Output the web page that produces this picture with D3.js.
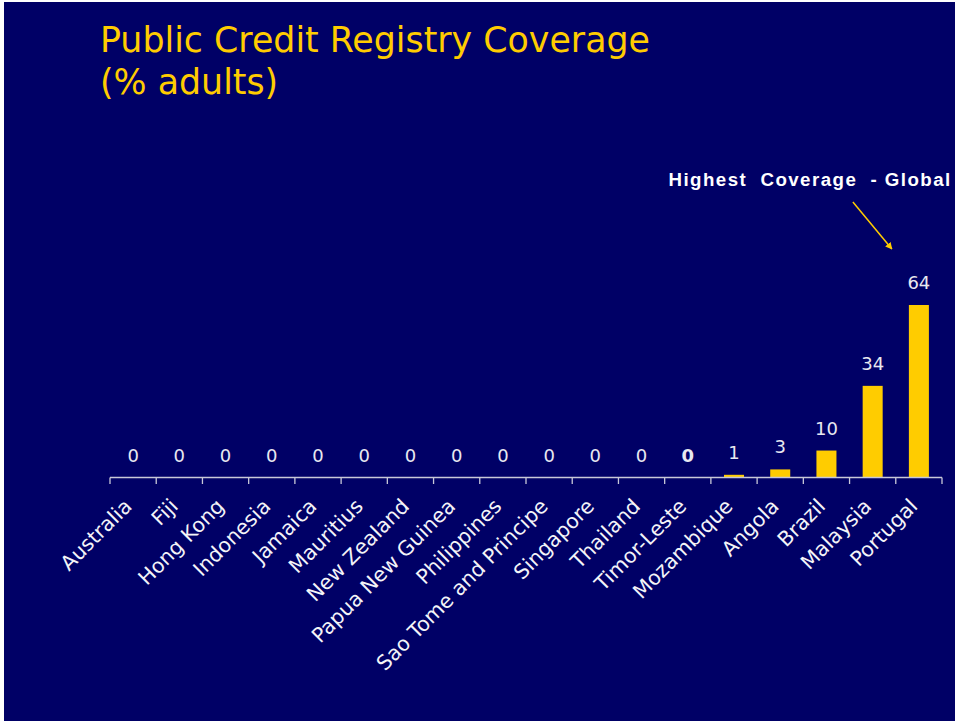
<!DOCTYPE html>
<html>
<head>
<meta charset="utf-8">
<script src="https://cdn.jsdelivr.net/npm/d3@7"></script>
<style>
  html, body { margin: 0; padding: 0; background: #ffffff; }
  svg { display: block; }
</style>
</head>
<body>
<svg id="chart" width="955" height="721"></svg>
<script>
// ---- data ----
const categories = ["Australia", "Fiji", "Hong Kong", "Indonesia", "Jamaica", "Mauritius",
  "New Zealand", "Papua New Guinea", "Philippines", "Sao Tome and Principe", "Singapore",
  "Thailand", "Timor-Leste", "Mozambique", "Angola", "Brazil", "Malaysia", "Portugal"];
const values = [0, 0, 0, 0, 0, 0, 0, 0, 0, 0, 0, 0, 0, 1, 3, 10, 34, 64];
const titleLines = ["Public Credit Registry Coverage", "(% adults)"];
const annotationText = "Highest  Coverage  - Global";
const annotatedCategory = "Portugal";
const boldLabelCategory = "Timor-Leste";

// ---- drawing ----
const svg = d3.select("#chart");
const W = 955, H = 721;

svg.append("rect").attr("x", 4).attr("y", 2).attr("width", W - 4).attr("height", H - 2)
  .attr("fill", "#000066");

const data = categories.map((c, i) => ({ c, v: values[i] }));

const x = d3.scaleBand().domain(categories).range([110, 942])
  .paddingInner(0.567).paddingOuter(0.2835);
const baseY = 477.5;
const y = d3.scaleLinear().domain([0, d3.max(values)]).range([baseY, 305]);

// title
svg.append("g").selectAll("text").data(titleLines).join("text")
  .attr("x", 100).attr("y", (d, i) => 52 + i * 42)
  .attr("fill", "#FFCC00")
  .attr("font-family", "DejaVu Sans, sans-serif")
  .attr("font-size", 34.8)
  .text(d => d);

// bars
svg.append("g").selectAll("rect").data(data).join("rect")
  .attr("x", d => x(d.c)).attr("width", x.bandwidth())
  .attr("y", d => y(d.v)).attr("height", d => baseY - y(d.v))
  .attr("fill", "#FFCC00");

// axis
const step = x.step();
const x0 = x.range()[0], x1 = x.range()[1];
const axisG = svg.append("g").attr("stroke", "#C8C8D8").attr("stroke-width", 1.3);
axisG.append("line").attr("x1", x0).attr("x2", x1).attr("y1", baseY).attr("y2", baseY);
axisG.selectAll("line.tick").data(d3.range(categories.length + 1)).join("line")
  .attr("class", "tick")
  .attr("x1", i => x0 + i * step).attr("x2", i => x0 + i * step)
  .attr("y1", baseY).attr("y2", baseY + 6.5);

// value labels
svg.append("g").selectAll("text").data(data).join("text")
  .attr("x", d => x(d.c) + x.bandwidth() / 2)
  .attr("y", d => y(d.v) - 16)
  .attr("text-anchor", "middle")
  .attr("fill", "#E8E8F0")
  .attr("font-family", "DejaVu Sans, sans-serif")
  .attr("font-size", 18)
  .attr("font-weight", d => d.c === boldLabelCategory ? "bold" : "normal")
  .text(d => d.v);

// category labels
svg.append("g").selectAll("text").data(categories).join("text")
  .attr("transform", c => `translate(${x(c) + x.bandwidth() / 2},${baseY + 30}) rotate(-45)`)
  .attr("text-anchor", "end")
  .attr("fill", "#F4F4F8")
  .attr("font-family", "DejaVu Sans, sans-serif")
  .attr("font-size", 20.5)
  .text(c => c);

// annotation
svg.append("text")
  .attr("x", 668.5).attr("y", 185.7)
  .attr("fill", "#FFFFFF")
  .attr("font-family", "Liberation Sans, Arial, sans-serif")
  .attr("font-weight", "bold")
  .attr("font-size", 18.7)
  .attr("letter-spacing", 1.45)
  .style("white-space", "pre")
  .text(annotationText);

const defs = svg.append("defs");
defs.append("marker").attr("id", "ah").attr("viewBox", "0 0 10 10")
  .attr("refX", 9).attr("refY", 5).attr("markerWidth", 7).attr("markerHeight", 7)
  .attr("markerUnits", "userSpaceOnUse").attr("orient", "auto")
  .append("path").attr("d", "M0,0 L10,5 L0,10 z").attr("fill", "#FFCC00");

const ax = x(annotatedCategory) + x.bandwidth() / 2;
const ay = y(values[categories.indexOf(annotatedCategory)]);
svg.append("line")
  .attr("x1", ax - 66).attr("y1", ay - 103)
  .attr("x2", ax - 27).attr("y2", ay - 56)
  .attr("stroke", "#FFCC00").attr("stroke-width", 1.5)
  .attr("marker-end", "url(#ah)");
</script>
</body>
</html>
